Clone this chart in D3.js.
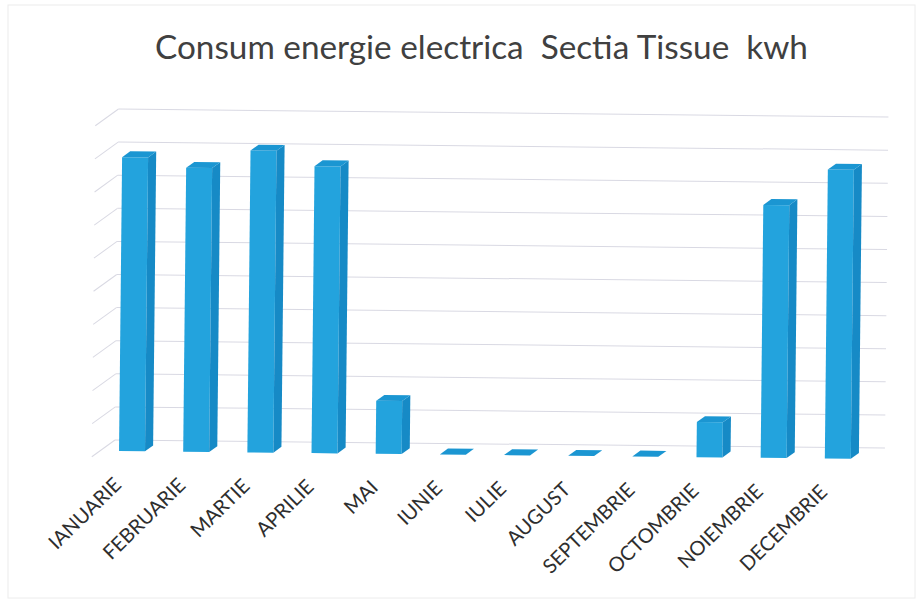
<!DOCTYPE html>
<html>
<head>
<meta charset="utf-8">
<script src="https://cdn.jsdelivr.net/npm/d3@7"></script>
<style>
  html, body { margin: 0; padding: 0; background: #ffffff; }
  svg { display: block; }
</style>
</head>
<body>
<svg id="chart" width="923" height="603"></svg>
<script>
// ---- data (kwh) ----
const categories = ["IANUARIE", "FEBRUARIE", "MARTIE", "APRILIE", "MAI", "IUNIE",
                    "IULIE", "AUGUST", "SEPTEMBRIE", "OCTOMBRIE", "NOIEMBRIE", "DECEMBRIE"];
const values = [444000, 429000, 456000, 433500, 80000, 0, 0, 0, 0, 53000, 382000, 436500];
const gridValues = [0, 50000, 100000, 150000, 200000, 250000, 300000, 350000, 400000, 450000, 500000];
const titleText = "Consum energie electrica\u00a0\u00a0Sectia Tissue\u00a0\u00a0kwh";

// ---- layout ----
const wall = { x0: 115, x1: 885, yBottom: 440, yTop: 109 };
const D = { x: -23, y: 17 };        // full depth vector, back wall -> front
const fBack = 0.30, fFront = 0.65;   // bar depth span (fraction of depth)
const svg = d3.select("#chart");

svg.append("rect").attr("x", 8).attr("y", 5).attr("width", 907).attr("height", 593)
  .attr("fill", "#ffffff").attr("stroke", "#ececec").attr("stroke-width", 1);

// title
const title = svg.append("text")
  .attr("x", 481.5).attr("y", 59)
  .attr("text-anchor", "middle")
  .attr("font-family", "Lato, 'Open Sans', sans-serif")
  .attr("font-size", 30)
  .attr("fill", "#404040")
  .text(titleText);
{
  const len = title.node().getComputedTextLength();
  title.attr("font-size", 30 * 653 / len);
}

const x = d3.scaleBand().domain(categories).range([wall.x0, wall.x1]).paddingInner(0).paddingOuter(0);
const y = d3.scaleLinear().domain([0, 500000]).range([wall.yBottom, wall.yTop]);

const g = svg.append("g").attr("transform", `rotate(0.6, ${wall.x0}, ${wall.yBottom})`);

// gridlines: back wall + left side wall
const grid = g.append("g").attr("stroke", "#d9d9e3").attr("stroke-width", 1).attr("fill", "none");
grid.selectAll("line.back").data(gridValues).join("line").attr("class", "back")
  .attr("x1", wall.x0).attr("x2", wall.x1)
  .attr("y1", d => y(d)).attr("y2", d => y(d));
grid.selectAll("line.side").data(gridValues).join("line").attr("class", "side")
  .attr("x1", wall.x0).attr("x2", wall.x0 + D.x)
  .attr("y1", d => y(d)).attr("y2", d => y(d) + D.y);

// bars
const barW = x.bandwidth() * 0.405;
const dd = { x: D.x * (fBack - fFront), y: D.y * (fBack - fFront) }; // front -> back
const bars = g.append("g");
categories.forEach((c, i) => {
  const v = values[i];
  const xl = x(c) + x.bandwidth() / 2 + D.x * fFront - barW / 2;
  const xr = xl + barW;
  const top = y(v) + D.y * fFront;
  const bot = y(0) + D.y * fFront;
  const bg = bars.append("g");
  if (v > 0) {
    bg.append("rect").attr("x", xl).attr("y", top).attr("width", barW).attr("height", bot - top)
      .attr("fill", "#23a3dd");
    bg.append("path")
      .attr("d", `M${xr},${top} L${xr + dd.x},${top + dd.y} L${xr + dd.x},${bot + dd.y} L${xr},${bot} Z`)
      .attr("fill", "#168ac6");
  }
  bg.append("path")
    .attr("d", `M${xl},${top} L${xl + dd.x},${top + dd.y} L${xr + dd.x},${top + dd.y} L${xr},${top} Z`)
    .attr("fill", "#1b96d2");
});

// category labels
const labels = g.append("g")
  .attr("font-family", "Lato, 'Open Sans', sans-serif")
  .attr("font-size", 20)
  .attr("fill", "#2e2e2e");
labels.selectAll("text").data(categories).join("text")
  .attr("text-anchor", "end")
  .attr("transform", d => {
    const lx = x(d) + x.bandwidth() / 2 + D.x - 1;
    const ly = y(0) + D.y + 29;
    return `translate(${lx},${ly}) rotate(-45)`;
  })
  .text(d => d);
</script>
</body>
</html>
